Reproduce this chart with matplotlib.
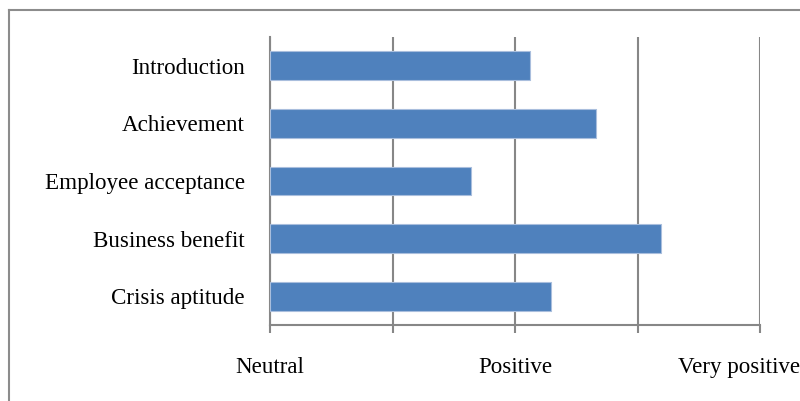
import matplotlib
matplotlib.use("Agg")
import matplotlib.pyplot as plt
from matplotlib.lines import Line2D
from matplotlib.transforms import ScaledTranslation

categories = ["Introduction", "Achievement", "Employee acceptance", "Business benefit", "Crisis aptitude"]
values = [4.06, 4.33, 3.82, 4.595, 4.145]
major_ticks = [3, 4, 5]
major_labels = ["Neutral", "Positive", "Very positive"]
minor_ticks = [3.5, 4.5]

plt.rcParams['font.family'] = ['Liberation Serif', 'DejaVu Serif']

fig = plt.figure(figsize=(8.0, 4.01), dpi=100)
ax = fig.add_axes([270/800, 76/401, 490/800, 288/401])

ypos = list(range(len(categories)))[::-1]
ax.barh(ypos, [v - 3 for v in values], left=3, height=0.5,
        color="#4F81BD", edgecolor="#A9BEDD", linewidth=0.8, zorder=3)

ax.set_xlim(3, 5)
ax.set_ylim(-0.5, 4.5)
ax.set_yticks(ypos)
ax.set_yticklabels(categories, fontsize=16.6)
ax.set_xticks(major_ticks)
ax.set_xticklabels(major_labels, fontsize=16.6)
ax.set_xticks(minor_ticks, minor=True)
ax.xaxis.grid(True, which='both', color="#878787", linewidth=1.5, zorder=0)
ax.tick_params(axis='y', length=0, pad=18)
ax.tick_params(axis='x', which='both', direction='out', length=6, width=1.5,
               color="#878787", pad=17)
for s in ['top', 'right']:
    ax.spines[s].set_visible(False)
for s in ['left', 'bottom']:
    ax.spines[s].set_color("#878787")
    ax.spines[s].set_linewidth(1.5)

# last label is pushed left to fit inside the chart area, as in the reference
last = ax.get_xticklabels()[-1]
last.set_horizontalalignment('right')
last.set_transform(last.get_transform() + ScaledTranslation(0.40, 0, fig.dpi_scale_trans))

# outer chart frame (partially clipped in the reference)
fig.add_artist(Line2D([8.5/800, 1.0], [1 - 9.5/401, 1 - 9.5/401], transform=fig.transFigure,
                      color="#8C8C8C", linewidth=1.5))
fig.add_artist(Line2D([8.5/800, 8.5/800], [0, 1 - 9.5/401], transform=fig.transFigure,
                      color="#8C8C8C", linewidth=1.5))

fig.savefig("out.png", dpi=100)
